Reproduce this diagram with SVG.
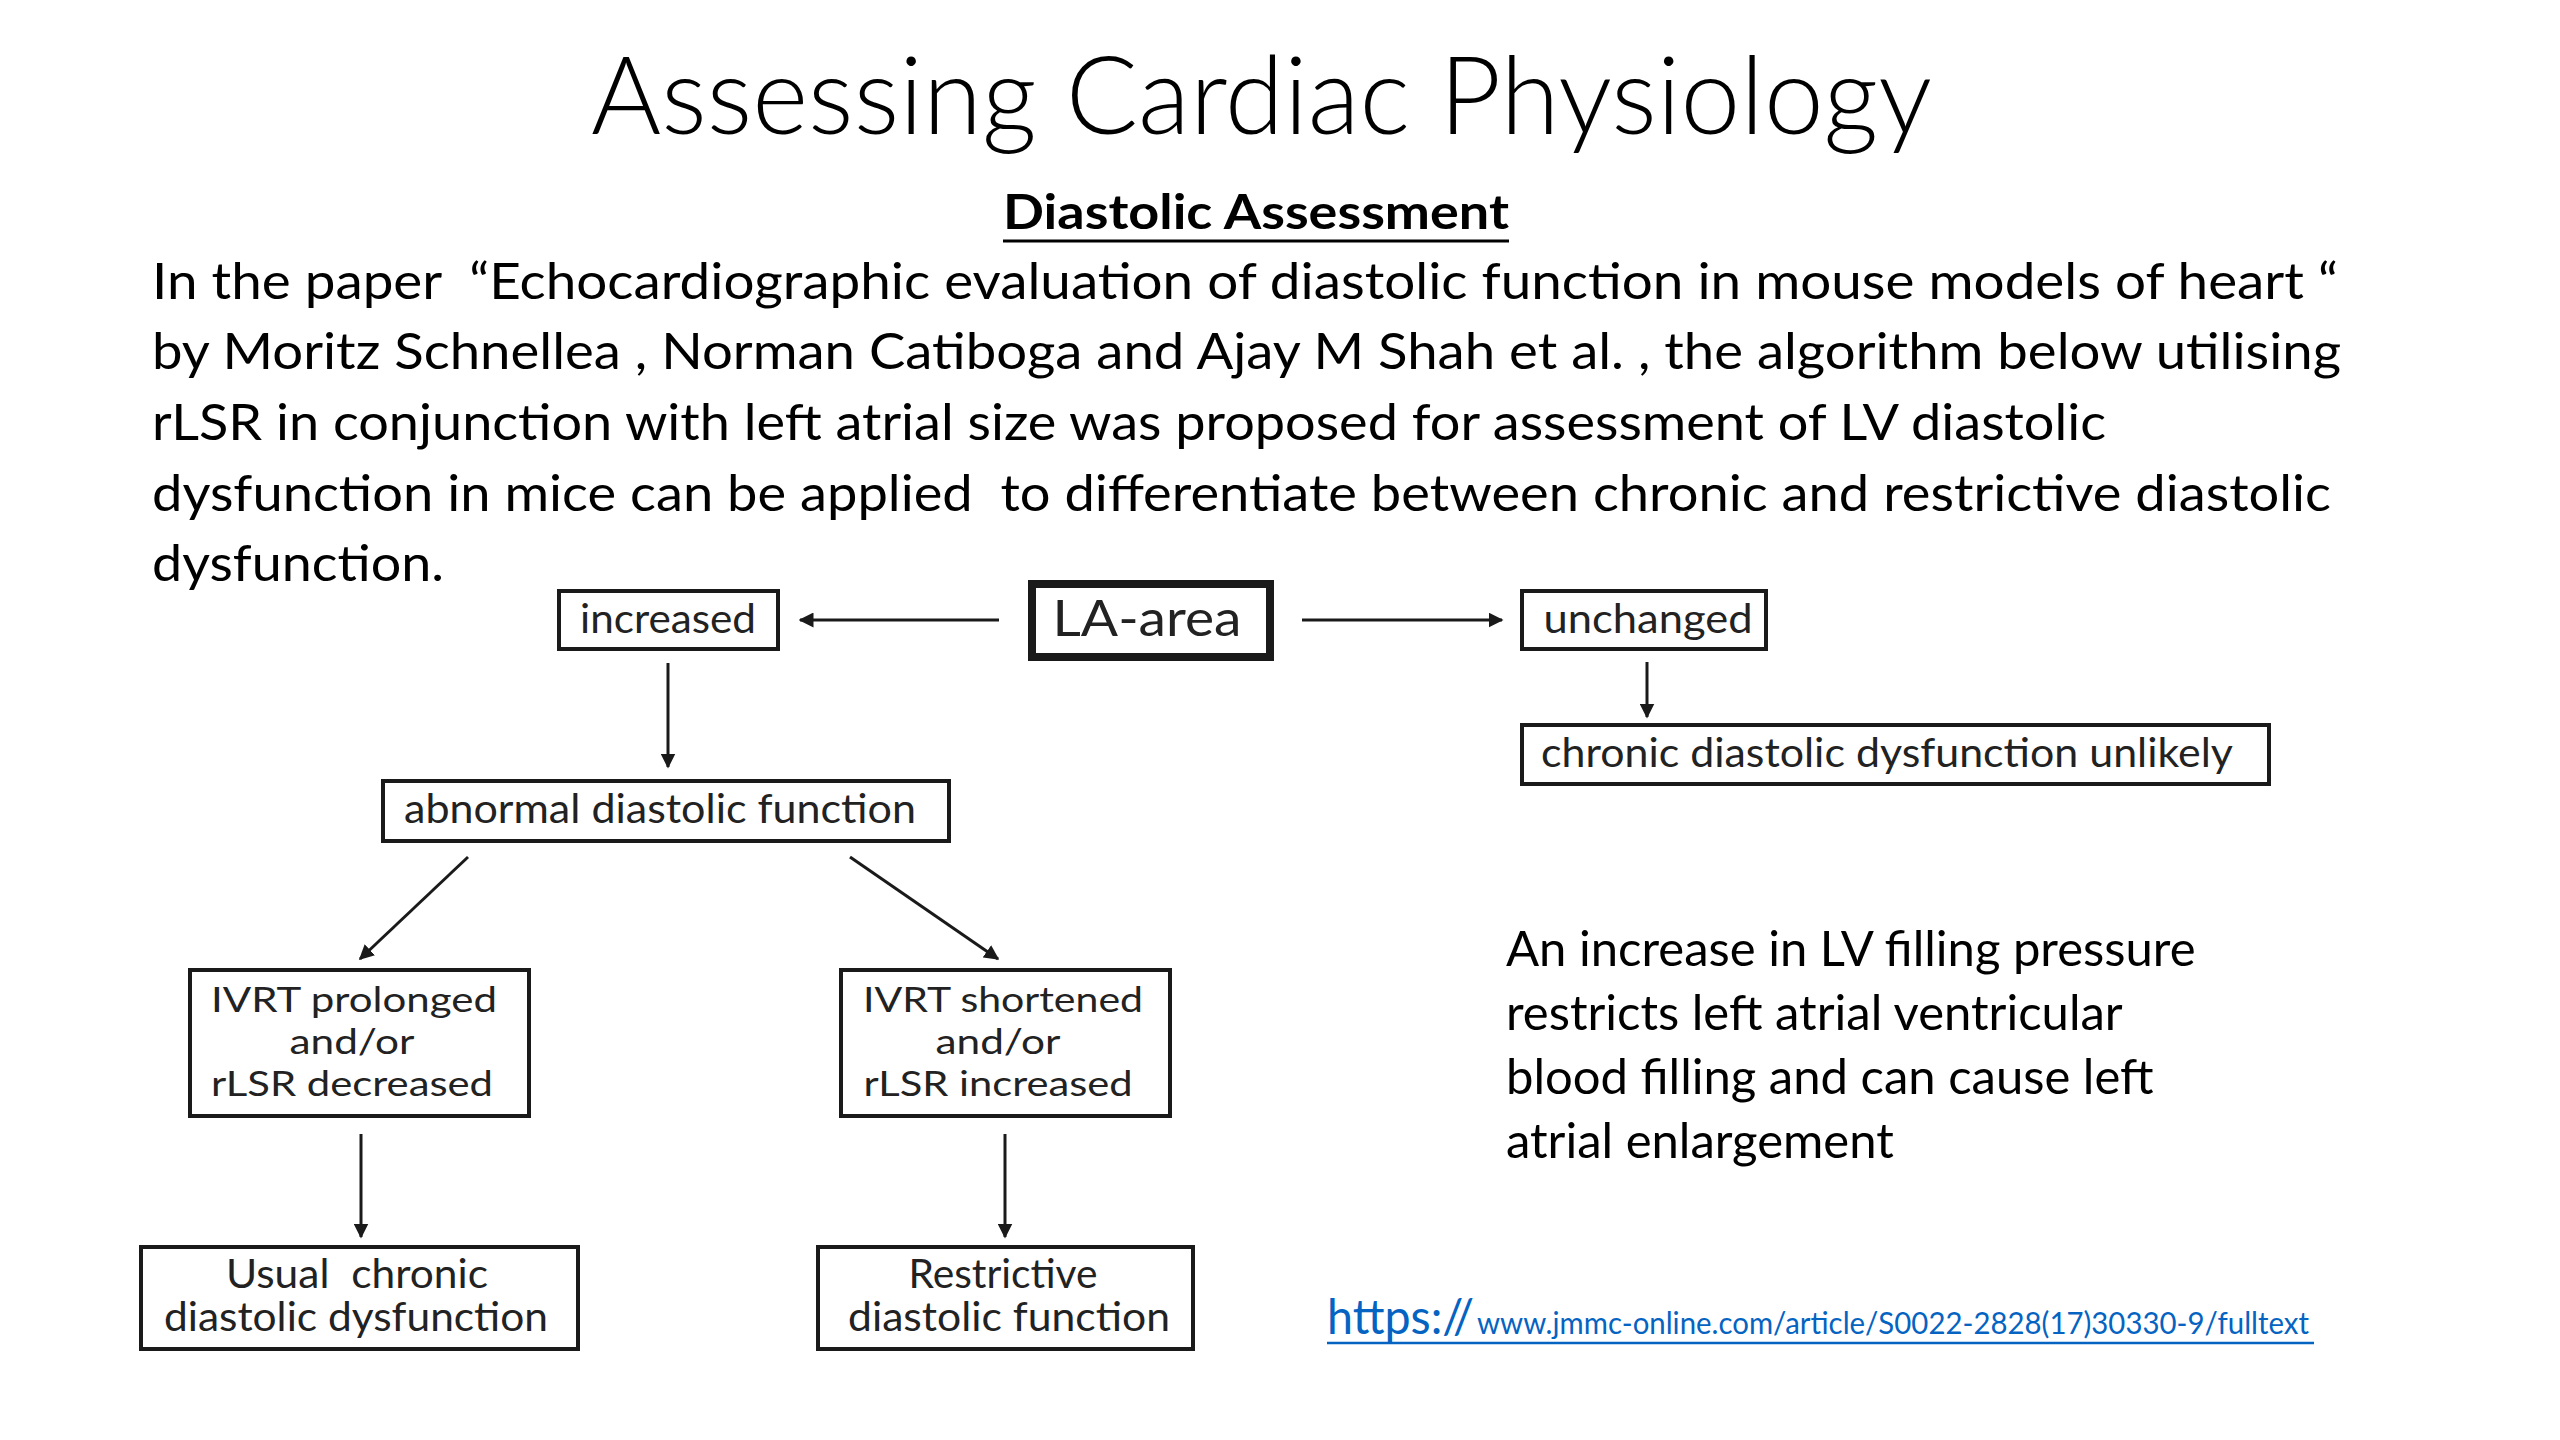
<svg xmlns="http://www.w3.org/2000/svg" width="2560" height="1440" viewBox="0 0 2560 1440">
<style>
.t{font-family:Lato,"Liberation Sans",sans-serif;fill:#000}
.title{font-size:108px;font-weight:300}
.sub{font-size:48px;font-weight:700}
.body{font-size:50px;white-space:pre}
.note{font-size:49px}
.lbl{font-family:Lato,"Liberation Sans",sans-serif;font-size:40px;fill:#222;text-anchor:middle;white-space:pre}
.sm{font-size:35px}
.box{fill:#fff;stroke:#1a1a1a;stroke-width:4}
.thick{fill:#fff;stroke:#1a1a1a;stroke-width:8}
.con{stroke:#1a1a1a;stroke-width:3;fill:none;marker-end:url(#ah)}
.link{font-family:Lato,"Liberation Sans",sans-serif;fill:#0563C1}
</style>
<defs>
<marker id="ah" viewBox="0 0 10 10" refX="9" refY="5" markerWidth="5" markerHeight="5" orient="auto" markerUnits="strokeWidth">
<path d="M0,0 L10,5 L0,10 z" fill="#1a1a1a"/>
</marker>
</defs>
<rect width="2560" height="1440" fill="#fff"/>
<text class="t title" x="591" y="134" textLength="1341" lengthAdjust="spacingAndGlyphs">Assessing Cardiac Physiology</text>
<text class="t sub" x="1003" y="229" textLength="506" lengthAdjust="spacingAndGlyphs">Diastolic Assessment</text>
<line x1="1003" y1="241" x2="1509" y2="241" stroke="#000" stroke-width="3"/>
<g class="t body">
<text x="152" y="299" textLength="2186" lengthAdjust="spacingAndGlyphs" xml:space="preserve">In the paper  “Echocardiographic evaluation of diastolic function in mouse models of heart “</text>
<text x="152" y="369" textLength="2189" lengthAdjust="spacingAndGlyphs">by Moritz Schnellea , Norman Catiboga and Ajay M Shah et al. , the algorithm below utilising</text>
<text x="152" y="440" textLength="1954" lengthAdjust="spacingAndGlyphs">rLSR in conjunction with left atrial size was proposed for assessment of LV diastolic</text>
<text x="152" y="511" textLength="2179" lengthAdjust="spacingAndGlyphs" xml:space="preserve">dysfunction in mice can be applied  to differentiate between chronic and restrictive diastolic</text>
<text x="152" y="581" textLength="292" lengthAdjust="spacingAndGlyphs">dysfunction.</text>
</g>
<g id="connectors">
<line class="con" x1="999" y1="620" x2="800" y2="620"/>
<line class="con" x1="1302" y1="620" x2="1502" y2="620"/>
<line class="con" x1="668" y1="663" x2="668" y2="767"/>
<line class="con" x1="1647" y1="662" x2="1647" y2="717"/>
<line class="con" x1="468" y1="857" x2="360" y2="959"/>
<line class="con" x1="850" y1="857" x2="998" y2="959"/>
<line class="con" x1="361" y1="1134" x2="361" y2="1237"/>
<line class="con" x1="1005" y1="1134" x2="1005" y2="1237"/>
</g>
<g id="la-area">
<rect class="thick" x="1032" y="584" width="238" height="73"/>
<text class="lbl" x="1147" y="636" style="font-size:50px" textLength="189" lengthAdjust="spacingAndGlyphs">LA-area</text>
</g>
<g id="increased">
<rect class="box" x="559" y="591" width="219" height="58"/>
<text class="lbl" x="668" y="633" textLength="176" lengthAdjust="spacingAndGlyphs">increased</text>
</g>
<g id="unchanged">
<rect class="box" x="1522" y="591" width="244" height="58"/>
<text class="lbl" x="1648" y="633" textLength="209" lengthAdjust="spacingAndGlyphs">unchanged</text>
</g>
<g id="unlikely">
<rect class="box" x="1522" y="725" width="747" height="59"/>
<text class="lbl" x="1887" y="767" textLength="692" lengthAdjust="spacingAndGlyphs">chronic diastolic dysfunction unlikely</text>
</g>
<g id="abnormal">
<rect class="box" x="383" y="781" width="566" height="60"/>
<text class="lbl" x="660" y="823" textLength="512" lengthAdjust="spacingAndGlyphs">abnormal diastolic function</text>
</g>
<g id="prolonged">
<rect class="box" x="190" y="970" width="339" height="146"/>
<text class="lbl sm" x="354" y="1012" textLength="286" lengthAdjust="spacingAndGlyphs">IVRT prolonged</text>
<text class="lbl sm" x="352" y="1054" textLength="125" lengthAdjust="spacingAndGlyphs">and/or</text>
<text class="lbl sm" x="352" y="1096" textLength="282" lengthAdjust="spacingAndGlyphs">rLSR decreased</text>
</g>
<g id="shortened">
<rect class="box" x="841" y="970" width="329" height="146"/>
<text class="lbl sm" x="1003" y="1012" textLength="280" lengthAdjust="spacingAndGlyphs">IVRT shortened</text>
<text class="lbl sm" x="998" y="1054" textLength="125" lengthAdjust="spacingAndGlyphs">and/or</text>
<text class="lbl sm" x="998" y="1096" textLength="269" lengthAdjust="spacingAndGlyphs">rLSR increased</text>
</g>
<g id="usual">
<rect class="box" x="141" y="1247" width="437" height="102"/>
<text class="lbl" x="357" y="1288" textLength="262" lengthAdjust="spacingAndGlyphs" xml:space="preserve">Usual  chronic</text>
<text class="lbl" x="356" y="1331" textLength="384" lengthAdjust="spacingAndGlyphs">diastolic dysfunction</text>
</g>
<g id="restrictive">
<rect class="box" x="818" y="1247" width="375" height="102"/>
<text class="lbl" x="1003" y="1288" textLength="189" lengthAdjust="spacingAndGlyphs">Restrictive</text>
<text class="lbl" x="1009" y="1331" textLength="322" lengthAdjust="spacingAndGlyphs">diastolic function</text>
</g>
<g class="t note">
<text x="1506" y="966">An increase in LV filling pressure</text>
<text x="1506" y="1030">restricts left atrial ventricular</text>
<text x="1506" y="1094">blood filling and can cause left</text>
<text x="1506" y="1158">atrial enlargement</text>
</g>
<g id="link">
<text class="link" x="1327" y="1334" style="font-size:48px" textLength="147" lengthAdjust="spacingAndGlyphs">https://</text>
<text class="link" x="1477" y="1334" style="font-size:30px" textLength="832" lengthAdjust="spacingAndGlyphs">www.jmmc-online.com/article/S0022-2828(17)30330-9/fulltext</text>
<line x1="1327" y1="1343" x2="2314" y2="1343" stroke="#0563C1" stroke-width="2.5"/>
</g>
</svg>
